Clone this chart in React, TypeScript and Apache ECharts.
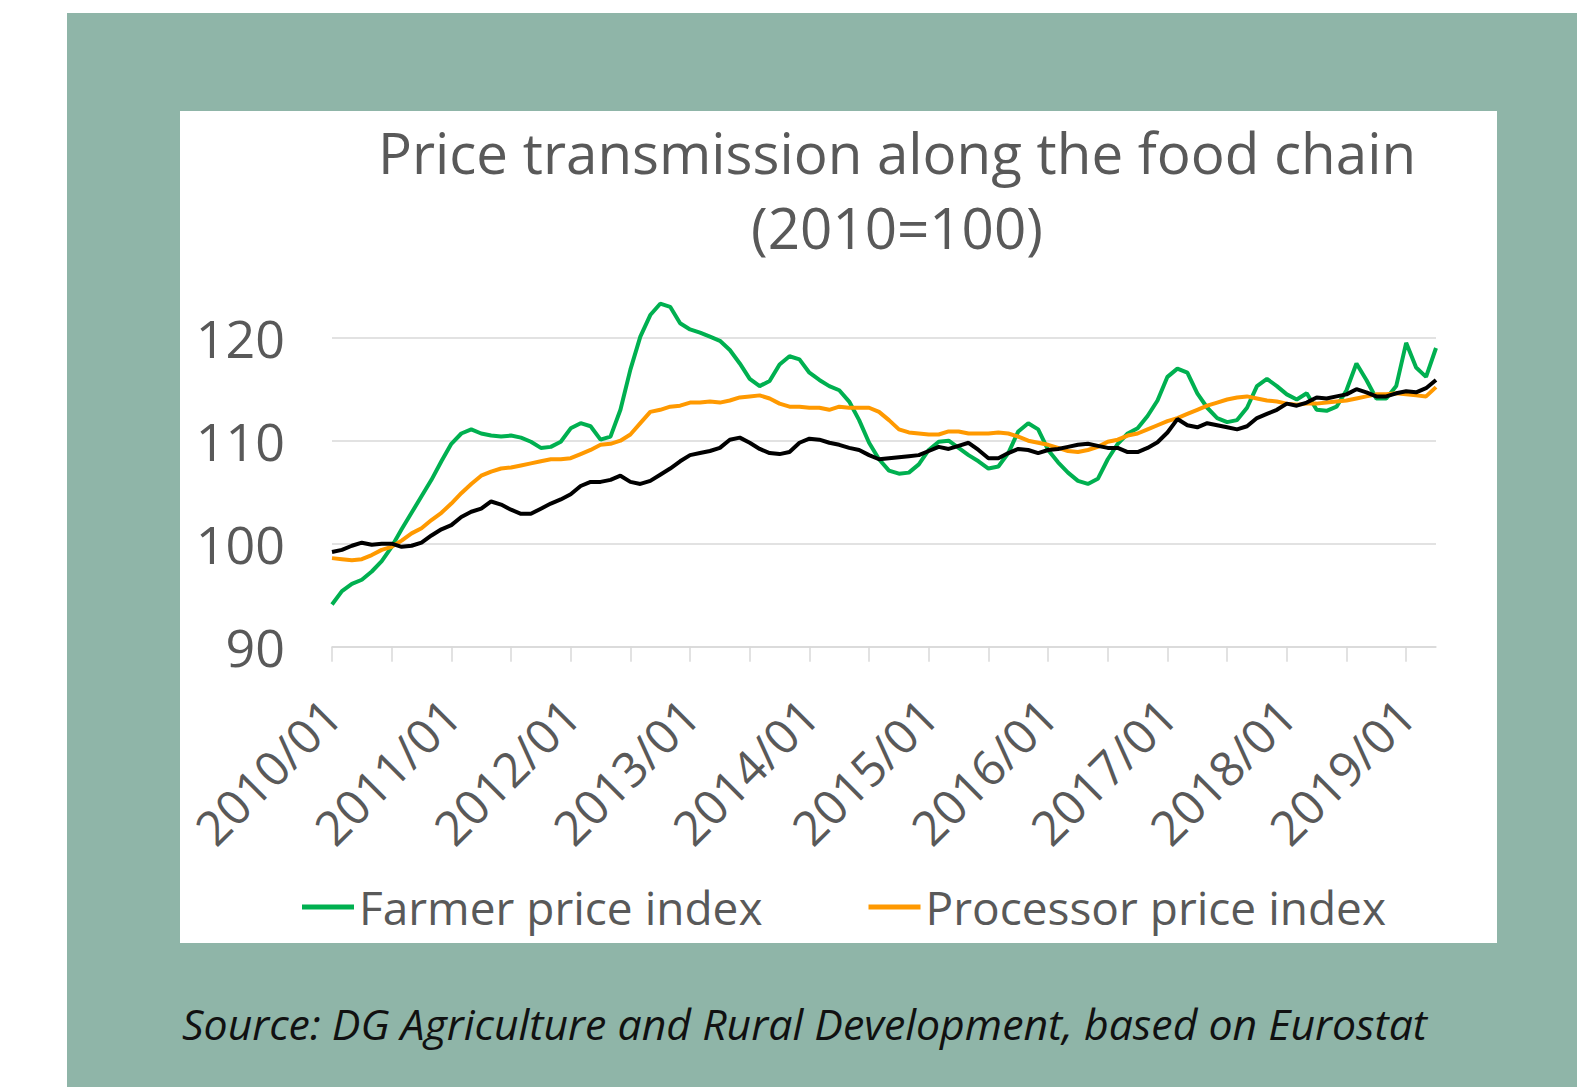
import React, { useEffect, useRef } from "react";
import * as echarts from "echarts";

const years = [2010, 2011, 2012, 2013, 2014, 2015, 2016, 2017, 2018, 2019];
const monthsInLastYear = 4;

const farmer = [
  94.1, 95.4, 96.1, 96.5, 97.3, 98.3, 99.7, 101.4, 103.0, 104.6,
  106.2, 108.0, 109.7, 110.7, 111.1, 110.7, 110.5, 110.4, 110.5, 110.3,
  109.9, 109.3, 109.4, 109.9, 111.2, 111.7, 111.4, 110.1, 110.4, 113.0,
  116.9, 120.1, 122.2, 123.3, 123.0, 121.4, 120.8, 120.5, 120.1, 119.7,
  118.8, 117.5, 116.0, 115.3, 115.8, 117.4, 118.2, 117.9, 116.6, 115.9,
  115.3, 114.9, 113.8, 112.0, 109.8, 108.2, 107.1, 106.8, 106.9, 107.7,
  109.1, 109.9, 110.0, 109.3, 108.6, 108.0, 107.3, 107.5, 108.8, 110.9,
  111.7, 111.1, 109.1, 107.9, 106.9, 106.1, 105.8, 106.3, 108.2, 109.7,
  110.7, 111.2, 112.4, 113.9, 116.2, 117.0, 116.6, 114.6, 113.2, 112.2,
  111.8, 112.0, 113.2, 115.3, 116.0, 115.3, 114.5, 114.0, 114.6, 113.0,
  112.9, 113.3, 114.9, 117.5, 115.9, 114.1, 114.1, 115.3, 119.5, 117.1,
  116.2, 119.0,
];

const processor = [
  98.6, 98.5, 98.4, 98.5, 98.9, 99.4, 99.7, 100.3, 101.0, 101.5,
  102.3, 103.0, 103.9, 104.9, 105.8, 106.6, 107.0, 107.3, 107.4, 107.6,
  107.8, 108.0, 108.2, 108.2, 108.3, 108.7, 109.1, 109.6, 109.7, 110.0,
  110.6, 111.7, 112.8, 113.0, 113.3, 113.4, 113.7, 113.7, 113.8, 113.7,
  113.9, 114.2, 114.3, 114.4, 114.1, 113.6, 113.3, 113.3, 113.2, 113.2,
  113.0, 113.3, 113.2, 113.2, 113.2, 112.8, 112.0, 111.1, 110.8, 110.7,
  110.6, 110.6, 110.9, 110.9, 110.7, 110.7, 110.7, 110.8, 110.7, 110.4,
  110.0, 109.8, 109.6, 109.3, 109.0, 108.9, 109.1, 109.4, 109.9, 110.1,
  110.5, 110.7, 111.1, 111.5, 111.9, 112.2, 112.6, 113.0, 113.4, 113.7,
  114.0, 114.2, 114.3, 114.1, 113.9, 113.8, 113.6, 113.5, 113.6, 113.6,
  113.7, 113.8, 113.9, 114.1, 114.3, 114.5, 114.5, 114.6, 114.5, 114.4,
  114.3, 115.2,
];

const consumer = [
  99.2, 99.4, 99.8, 100.1, 99.9, 100.0, 100.0, 99.7, 99.8, 100.1,
  100.8, 101.4, 101.8, 102.6, 103.1, 103.4, 104.1, 103.8, 103.3, 102.9,
  102.9, 103.4, 103.9, 104.3, 104.8, 105.6, 106.0, 106.0, 106.2, 106.6,
  106.0, 105.8, 106.1, 106.7, 107.3, 108.0, 108.6, 108.8, 109.0, 109.3,
  110.1, 110.3, 109.8, 109.2, 108.8, 108.7, 108.9, 109.8, 110.2, 110.1,
  109.8, 109.6, 109.3, 109.1, 108.6, 108.2, 108.3, 108.4, 108.5, 108.6,
  109.0, 109.4, 109.2, 109.5, 109.8, 109.1, 108.3, 108.3, 108.8, 109.2,
  109.1, 108.8, 109.1, 109.2, 109.4, 109.6, 109.7, 109.5, 109.3, 109.3,
  108.9, 108.9, 109.3, 109.85, 110.8, 112.1, 111.5, 111.3, 111.7, 111.5,
  111.3, 111.1, 111.4, 112.2, 112.6, 113.0, 113.6, 113.4, 113.7, 114.2,
  114.1, 114.3, 114.5, 115.0, 114.7, 114.3, 114.3, 114.6, 114.8, 114.7,
  115.1, 115.9,
];

const yTicks = [90, 100, 110, 120];
const titleLines = ["Price transmission along the food chain", "(2010=100)"];
const seriesNames = ["Farmer price index", "Processor price index", "Consumer food price index"];
const sourceText = "Source: DG Agriculture and Rural Development, based on Eurostat";

const categories: string[] = [];
years.forEach((y, yi) => {
  const n = yi === years.length - 1 ? monthsInLastYear : 12;
  for (let m = 1; m <= n; m++) categories.push(`${y}/${m < 10 ? "0" + m : m}`);
});

const FONT = "'Open Sans', 'Noto Sans', sans-serif";
const GREY = "#595959";

export default function App() {
  const ref = useRef<HTMLDivElement>(null);
  useEffect(() => {
    if (!ref.current) return;
    const chart = echarts.init(ref.current, undefined, { renderer: "svg" });
    chart.setOption({
      animation: false,
      textStyle: { fontFamily: FONT },
      graphic: [
        { type: "rect", z: -100, silent: true, shape: { x: 67, y: 13, width: 1510, height: 1074 }, style: { fill: "#8fb5a8" } },
        { type: "rect", z: -99, silent: true, shape: { x: 180, y: 111, width: 1317, height: 832 }, style: { fill: "#ffffff" } },
        { type: "text", x: 897, y: 152, style: { text: titleLines[0], fontSize: 56.5, fontFamily: FONT, fill: GREY, textAlign: "center", textVerticalAlign: "middle" } },
        { type: "text", x: 897, y: 227, style: { text: titleLines[1], fontSize: 56.5, fontFamily: FONT, fill: GREY, textAlign: "center", textVerticalAlign: "middle" } },
        { type: "text", x: 182, y: 1023, style: { text: sourceText, fontSize: 42.8, fontStyle: "italic", fontFamily: FONT, fill: "#111111", textAlign: "left", textVerticalAlign: "middle" } },
      ],
      grid: { left: 332, right: 141, top: 337.7, bottom: 440.3, containLabel: false },
      legend: {
        data: [seriesNames[0], seriesNames[1]],
        left: 297,
        top: 879,
        icon: "rect",
        itemWidth: 52,
        itemHeight: 5,
        itemGap: 106,
        textStyle: { fontSize: 46, color: GREY, fontFamily: FONT, padding: [0, 0, 0, 0] },
      },
      xAxis: {
        type: "category",
        data: categories,
        boundaryGap: false,
        axisLine: { lineStyle: { color: "#d9d9d9", width: 1.5 } },
        axisTick: { show: true, interval: 5, length: 15, lineStyle: { color: "#d9d9d9", width: 1.5 } },
        axisLabel: { interval: 11, rotate: 45, fontSize: 48, color: GREY, margin: 60, fontFamily: FONT },
        splitLine: { show: false },
      },
      yAxis: {
        type: "value",
        min: yTicks[0],
        max: yTicks[yTicks.length - 1],
        interval: 10,
        axisLine: { show: false },
        axisTick: { show: false },
        axisLabel: { fontSize: 52, color: GREY, margin: 47, fontFamily: FONT },
        splitLine: { lineStyle: { color: "#d9d9d9", width: 1.5 } },
      },
      series: [
        { name: seriesNames[0], type: "line", data: farmer, symbol: "none", clip: false, lineStyle: { color: "#00b050", width: 4 }, itemStyle: { color: "#00b050" } },
        { name: seriesNames[1], type: "line", data: processor, symbol: "none", clip: false, lineStyle: { color: "#ff9900", width: 4 }, itemStyle: { color: "#ff9900" } },
        { name: seriesNames[2], type: "line", data: consumer, symbol: "none", clip: false, lineStyle: { color: "#000000", width: 4 }, itemStyle: { color: "#000000" } },
      ],
    });
    return () => chart.dispose();
  }, []);
  return <div ref={ref} style={{ position: "absolute", left: 0, top: 0, width: 1577, height: 1087 }} />;
}
